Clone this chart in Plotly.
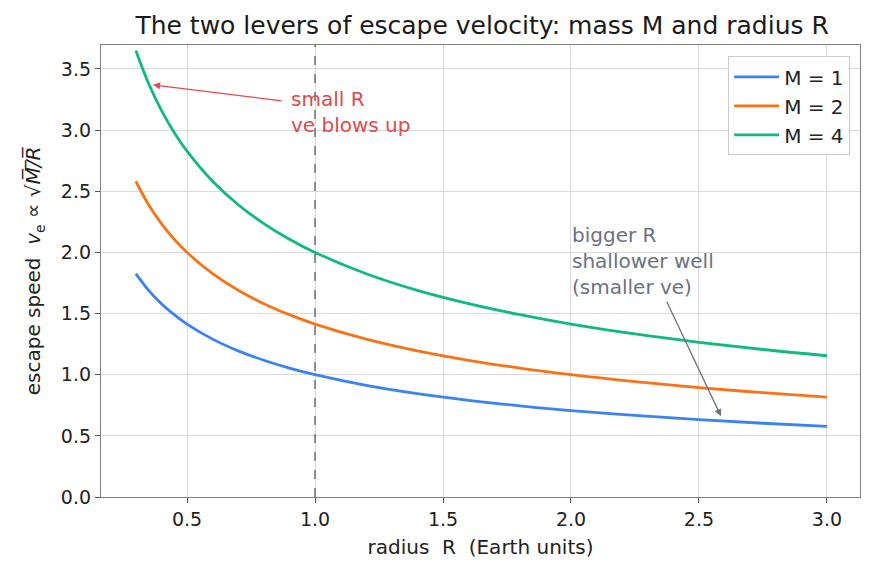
import plotly.graph_objects as go

R = [0.3, 0.35, 0.4, 0.45, 0.5, 0.6, 0.7, 0.8, 0.9, 1.0, 1.2, 1.4, 1.6, 1.8, 2.0, 2.25, 2.5, 2.75, 3.0]
v_m1 = [1.826, 1.690, 1.581, 1.491, 1.414, 1.291, 1.195, 1.118, 1.054, 1.000, 0.913, 0.845, 0.791, 0.745, 0.707, 0.667, 0.632, 0.603, 0.577]
v_m2 = [2.582, 2.390, 2.236, 2.108, 2.000, 1.826, 1.690, 1.581, 1.491, 1.414, 1.291, 1.195, 1.118, 1.054, 1.000, 0.943, 0.894, 0.853, 0.816]
v_m4 = [3.651, 3.381, 3.162, 2.981, 2.828, 2.582, 2.390, 2.236, 2.108, 2.000, 1.826, 1.690, 1.581, 1.491, 1.414, 1.333, 1.265, 1.206, 1.155]
series_names = ["M = 1", "M = 2", "M = 4"]
colors = ["#3b82f6", "#f97316", "#10b981"]
x_ticks = [0.5, 1.0, 1.5, 2.0, 2.5, 3.0]
y_ticks = [0.0, 0.5, 1.0, 1.5, 2.0, 2.5, 3.0, 3.5]

FONT = "DejaVu Sans"
fig = go.Figure()
for name, vals, c in zip(series_names, [v_m1, v_m2, v_m4], colors):
    fig.add_trace(go.Scatter(x=R, y=vals, mode="lines", name=name,
                             line=dict(color=c, width=2.8, shape="spline", smoothing=1.0)))

fig.add_vline(x=1.0, line=dict(color="#666666", width=1.4, dash="dash"))

# red annotation
fig.add_annotation(x=0.367, y=3.37, ax=0.875, ay=3.238, xref="x", yref="y", axref="x", ayref="y",
                   text="", showarrow=True, arrowhead=2, arrowsize=1.1, arrowwidth=1.3, arrowcolor="#e04a4a")
fig.add_annotation(x=0.9, y=3.15, xref="x", yref="y", text="small R<br>ve blows up", showarrow=False,
                   xanchor="left", yanchor="middle", align="left",
                   font=dict(family=FONT, size=20, color="#e04a4a"))
# gray annotation
fig.add_annotation(x=2.586, y=0.66, ax=2.371, ay=1.611, xref="x", yref="y", axref="x", ayref="y",
                   text="", showarrow=True, arrowhead=2, arrowsize=1.1, arrowwidth=1.3, arrowcolor="#6b7280")
fig.add_annotation(x=1.995, y=1.93, xref="x", yref="y", text="bigger R<br>shallower well<br>(smaller ve)",
                   showarrow=False, xanchor="left", yanchor="middle", align="left",
                   font=dict(family=FONT, size=20, color="#6b7280"))

axis_common = dict(showgrid=True, gridcolor="#d9d9d9", gridwidth=1, showline=True, linecolor="#7f7f7f",
                   linewidth=1.3, mirror=True, ticks="outside", ticklen=5, tickcolor="#555555",
                   tickfont=dict(family=FONT, size=19, color="#222222"), zeroline=False)

fig.update_layout(
    width=875, height=573,
    margin=dict(l=101, r=15, t=45, b=76),
    paper_bgcolor="white", plot_bgcolor="white",
    title=dict(text="The two levers of escape velocity: mass M and radius R", x=0.551, xanchor="center",
               y=0.956, yanchor="middle", font=dict(family=FONT, size=25, color="#1a1a1a")),
    xaxis=dict(range=[0.164, 3.129], tickvals=x_ticks,
               ticktext=[f"{v:.1f}" for v in x_ticks],
               title=dict(text="radius\u00a0 R\u00a0 (Earth units)", font=dict(family=FONT, size=20, color="#222222"), standoff=11),
               **axis_common),
    yaxis=dict(range=[0, 3.696], tickvals=y_ticks,
               ticktext=[f"{v:.1f}" for v in y_ticks],
               title=dict(text="escape speed\u00a0 <i>v</i><sub>e</sub> ∝ √<i>M\u0305/\u0305R\u0305</i>", font=dict(family=FONT, size=20, color="#222222"), standoff=14),
               **axis_common),
    legend=dict(x=0.987, y=0.975, xanchor="right", yanchor="top", bgcolor="rgba(255,255,255,0.9)",
                bordercolor="#cccccc", borderwidth=1, font=dict(family=FONT, size=20, color="#222222"),
                tracegroupgap=0, itemwidth=45),
    showlegend=True,
)

fig.write_html("out.html")
